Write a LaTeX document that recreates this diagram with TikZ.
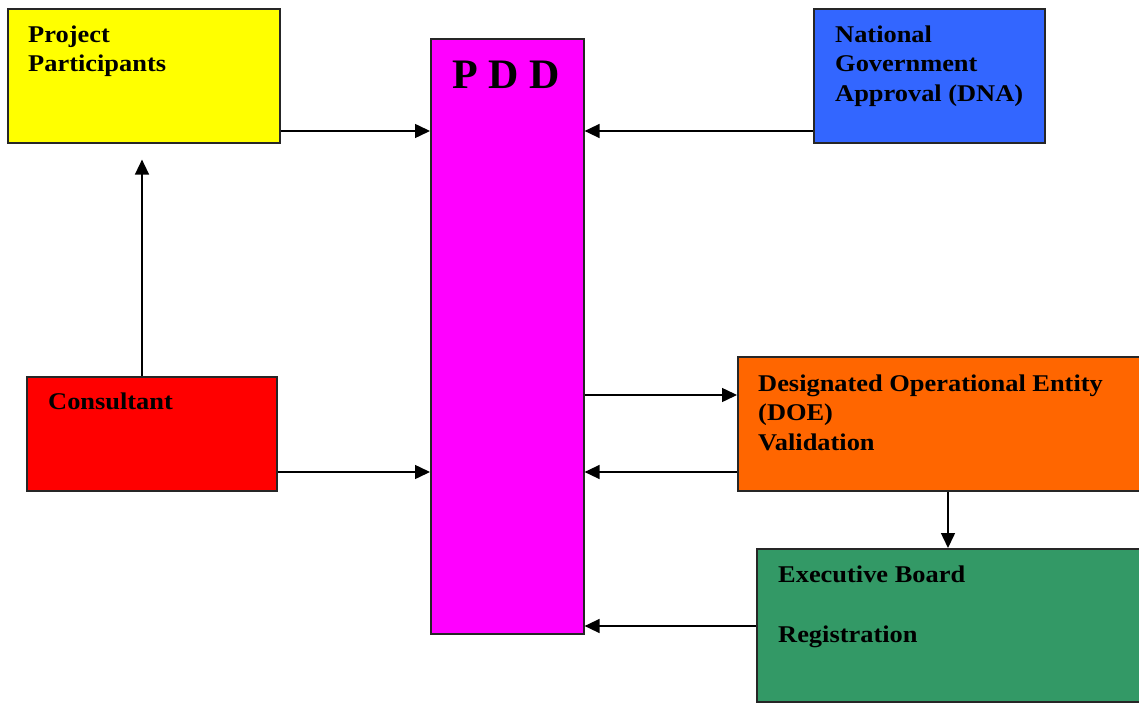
\documentclass[tikz,border=0pt]{standalone}
\usepackage{fontspec}
\setmainfont{Liberation Serif}
\newfontfamily\labelfont{Liberation Serif}[FakeStretch=1.1]
\usetikzlibrary{arrows.meta}
\definecolor{ppyellow}{HTML}{FFFF00}
\definecolor{pddmagenta}{HTML}{FF00FF}
\definecolor{dnablue}{HTML}{3366FF}
\definecolor{consred}{HTML}{FF0000}
\definecolor{doeorange}{HTML}{FF6600}
\definecolor{ebgreen}{HTML}{339966}
\begin{document}
\begin{tikzpicture}[x=1pt,y=-1pt,
  box/.style={draw=black!85, line width=1.6pt, inner sep=0pt, anchor=north west},
  lbl/.style={anchor=north west, inner sep=0pt, align=left,
    font=\labelfont\bfseries\fontsize{24}{29.5}\selectfont},
  flow/.style={line width=1.5pt, -{Triangle[length=15pt,width=14pt]}}]
\useasboundingbox (0,0) rectangle (1139,703);

% boxes
\node[box, fill=ppyellow, minimum width=272pt, minimum height=134pt] (pp) at (7,8) {};
\node[box, fill=pddmagenta, minimum width=153pt, minimum height=595pt] (pdd) at (430,38) {};
\node[box, fill=dnablue, minimum width=231pt, minimum height=134pt] (dna) at (813,8) {};
\node[box, fill=consred, minimum width=250pt, minimum height=114pt] (cons) at (26,376) {};
\node[box, fill=doeorange, minimum width=406pt, minimum height=134pt] (doe) at (737,356) {};
\node[box, fill=ebgreen, minimum width=388pt, minimum height=153pt] (eb) at (756,548) {};

% texts
\node[lbl] (pptext) at (28,25.5) {Project\\Participants};
\node[anchor=north west, inner sep=0pt, font=\bfseries\fontsize{42}{42}\selectfont] (pddtext) at (452,60.5) {P D D};
\node[lbl] (dnatext) at (835,25.5) {National\\Government\\Approval (DNA)};
\node[lbl] (constext) at (48,392.5) {Consultant};
\node[lbl] (doetext) at (758,374.3) {Designated Operational Entity\\(DOE)\\Validation};
\node[lbl] (ebtext) at (778,565.3) {Executive Board\\[30.5pt]Registration};

% rows and columns of the connectors
\coordinate (r1) at (0,131);
\coordinate (r2) at (0,395);
\coordinate (r3) at (0,472);
\coordinate (r4) at (0,626);
\coordinate (c1) at (142,0);
\coordinate (c2) at (948,0);

% connectors
\draw[flow] (pp.east |- r1) -- (pdd.west |- r1);
\draw[flow] (dna.west |- r1) -- (pdd.east |- r1);
\draw[flow, shorten >=16pt] (cons.north -| c1) -- (pp.south -| c1);
\draw[flow] (cons.east |- r3) -- (pdd.west |- r3);
\draw[flow] (pdd.east |- r2) -- (doe.west |- r2);
\draw[flow] (doe.west |- r3) -- (pdd.east |- r3);
\draw[flow] (doe.south -| c2) -- (eb.north -| c2);
\draw[flow] (eb.west |- r4) -- (pdd.east |- r4);
\end{tikzpicture}
\end{document}
